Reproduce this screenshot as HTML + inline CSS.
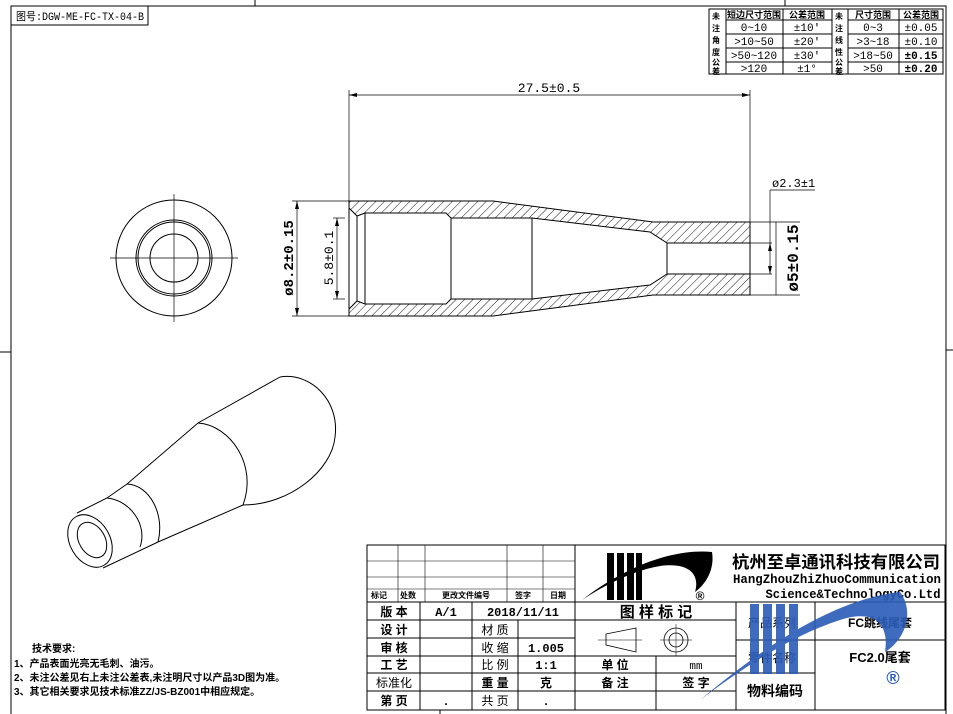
<!DOCTYPE html>
<html><head><meta charset="utf-8"><style>
html,body{margin:0;padding:0;background:#fff;}
svg{display:block;font-family:"Liberation Sans","Noto Sans CJK SC",sans-serif;}
.t{fill:#000;}
.b{font-weight:bold;}
.m{font-family:"Liberation Mono","Noto Sans CJK SC",monospace;}
</style></head><body>
<svg width="953" height="714" viewBox="0 0 953 714" xmlns="http://www.w3.org/2000/svg" font-size="11">
<defs>
<pattern id="h" patternUnits="userSpaceOnUse" width="6" height="6" patternTransform="rotate(45)">
<line x1="0" y1="0" x2="0" y2="6" stroke="#000" stroke-width="0.9"/>
</pattern>
</defs>
<g fill="none" stroke="#000" stroke-width="1">
<polyline points="11,714 11,18 11,6 946,6 946,714"/>
<rect x="11" y="6" width="137" height="19"/>
<line x1="255" y1="0" x2="255" y2="6"/><line x1="785" y1="0" x2="785" y2="6"/>
<line x1="0" y1="352" x2="11" y2="352"/><line x1="946" y1="350" x2="953" y2="350"/>
<rect x="709" y="9" width="234" height="65"/>
<line x1="726" y1="9" x2="726" y2="74"/><line x1="783" y1="9" x2="783" y2="74"/>
<line x1="832" y1="9" x2="832" y2="74"/><line x1="848" y1="9" x2="848" y2="74"/>
<line x1="899" y1="9" x2="899" y2="74"/>
<line x1="726" y1="20" x2="832" y2="20"/><line x1="848" y1="20" x2="943" y2="20"/>
<line x1="726" y1="34" x2="832" y2="34"/><line x1="848" y1="34" x2="943" y2="34"/>
<line x1="726" y1="48" x2="832" y2="48"/><line x1="848" y1="48" x2="943" y2="48"/>
<line x1="726" y1="62" x2="832" y2="62"/><line x1="848" y1="62" x2="943" y2="62"/>
</g>
<g class="t" font-size="9">
<text x="712" y="19" class="b" font-size="8">未</text><text x="712" y="31" class="b" font-size="8">注</text><text x="712" y="43" class="b" font-size="8">角</text><text x="712" y="55" class="b" font-size="8">度</text><text x="712" y="65" class="b" font-size="8">公</text><text x="712" y="74" class="b" font-size="8">差</text>
<text x="835" y="19" class="b" font-size="8">未</text><text x="835" y="31" class="b" font-size="8">注</text><text x="835" y="43" class="b" font-size="8">线</text><text x="835" y="55" class="b" font-size="8">性</text><text x="835" y="65" class="b" font-size="8">公</text><text x="835" y="74" class="b" font-size="8">差</text>
<text x="754" y="18" text-anchor="middle" class="b" font-size="9">短边尺寸范围</text>
<text x="807" y="18" text-anchor="middle" class="b" font-size="9">公差范围</text>
<text x="873" y="18" text-anchor="middle" class="b" font-size="9">尺寸范围</text>
<text x="921" y="18" text-anchor="middle" class="b" font-size="9">公差范围</text>
<g class="m" font-size="11">
<text x="754" y="31" text-anchor="middle">0~10</text><text x="807" y="31" text-anchor="middle">±10'</text>
<text x="754" y="45" text-anchor="middle">&gt;10~50</text><text x="807" y="45" text-anchor="middle">±20'</text>
<text x="754" y="59" text-anchor="middle">&gt;50~120</text><text x="807" y="59" text-anchor="middle">±30'</text>
<text x="754" y="72" text-anchor="middle">&gt;120</text><text x="807" y="72" text-anchor="middle">±1°</text>
<text x="873" y="31" text-anchor="middle">0~3</text><text x="921" y="31" text-anchor="middle">±0.05</text>
<text x="873" y="45" text-anchor="middle">&gt;3~18</text><text x="921" y="45" text-anchor="middle">±0.10</text>
<text x="873" y="59" text-anchor="middle">&gt;18~50</text><text x="921" y="59" text-anchor="middle" class="b">±0.15</text>
<text x="873" y="72" text-anchor="middle">&gt;50</text><text x="921" y="72" text-anchor="middle" class="b">±0.20</text>
</g>
</g>
<text x="16" y="20" class="t m" font-size="11" textLength="128" lengthAdjust="spacingAndGlyphs">图号:DGW-ME-FC-TX-04-B</text>

<path d="M349,201 L493,201 L653,222 L750,222 L750,243 L667,243 L650,232 L532,218 L451,218 L446,213 L365,213 L357,216 L349,208 Z" fill="url(#h)" stroke="#000"/>
<path d="M349,316 L493,316 L653,295 L750,295 L750,274 L667,274 L650,285 L532,299 L451,299 L446,304 L365,304 L357,301 L349,309 Z" fill="url(#h)" stroke="#000"/>
<g fill="none" stroke="#000" stroke-width="1">
<line x1="349" y1="208" x2="349" y2="309"/>
<line x1="357" y1="216" x2="357" y2="301"/>
<line x1="365" y1="213" x2="365" y2="304"/>
<line x1="451" y1="218" x2="451" y2="299"/>
<line x1="532" y1="218" x2="532" y2="299"/>
<line x1="667" y1="243" x2="667" y2="274"/>
<line x1="750" y1="243" x2="750" y2="274"/>
</g>
<g fill="none" stroke="#000" stroke-width="0.7">
<line x1="349" y1="90" x2="349" y2="201"/><line x1="750" y1="90" x2="750" y2="222"/>
<line x1="349" y1="95" x2="750" y2="95"/>
<line x1="292" y1="201" x2="349" y2="201"/><line x1="292" y1="316" x2="349" y2="316"/>
<line x1="297" y1="201" x2="297" y2="316"/>
<line x1="333" y1="218" x2="345" y2="218"/><line x1="333" y1="299" x2="345" y2="299"/>
<line x1="337" y1="218" x2="337" y2="299"/>
<line x1="750" y1="222" x2="800" y2="222"/><line x1="750" y1="295" x2="800" y2="295"/>
<line x1="776" y1="222" x2="776" y2="295"/>
<line x1="750" y1="243" x2="772" y2="243"/><line x1="750" y1="274" x2="772" y2="274"/>
<line x1="770" y1="190" x2="770" y2="274"/><line x1="770" y1="190" x2="815" y2="190"/>
</g>
<g fill="#000">
<path d="M349,95 l8,-2 v4z"/><path d="M750,95 l-8,-2 v4z"/>
<path d="M297,201 l-2,8 h4z"/><path d="M297,316 l-2,-8 h4z"/>
<path d="M337,218 l-2,8 h4z"/><path d="M337,299 l-2,-8 h4z"/>
<path d="M770,243 l-2,8 h4z"/><path d="M770,274 l-2,-8 h4z"/>
</g>
<text x="549" y="92" class="t m" font-size="13" text-anchor="middle">27.5±0.5</text>
<text x="772" y="187" class="t m" font-size="12">ø2.3±1</text>
<text transform="translate(293,258) rotate(-90)" class="t m b" font-size="14" text-anchor="middle">ø8.2±0.15</text>
<text transform="translate(333,258) rotate(-90)" class="t m" font-size="13" text-anchor="middle">5.8±0.1</text>
<text transform="translate(798,258) rotate(-90)" class="t m b" font-size="16" text-anchor="middle">ø5±0.15</text>

<g fill="none" stroke="#000" stroke-width="1">
<circle cx="174" cy="258" r="58"/><circle cx="174" cy="258" r="38"/><circle cx="174" cy="258" r="36"/><circle cx="174" cy="258" r="24"/>
<line x1="110" y1="258" x2="238" y2="258" stroke-width="0.7"/><line x1="174" y1="194" x2="174" y2="322" stroke-width="0.7"/>
</g>
<g fill="none" stroke="#000" stroke-width="1">
<path d="M280,377 C310,372 340,400 335,437 C332,470 290,505 243,505"/>
<path d="M280,377 L198,423 L127,484 L107,498 L77,513"/>
<path d="M243,505 L158,542 L103,568"/>
<path d="M198,423 C230,425 258,465 243,505"/>
<path d="M127,484 C150,485 165,515 158,542"/>
<path d="M107,498 C130,500 148,525 140,547"/>
<ellipse cx="90" cy="541" rx="20" ry="28" transform="rotate(-30 90 541)"/>
<ellipse cx="92" cy="540" rx="13" ry="19" transform="rotate(-30 92 540)"/>
</g>

<g class="t b" font-size="10">
<text x="32" y="652">技术要求:</text>
<text x="14" y="667">1、产品表面光亮无毛刺、油污。</text>
<text x="14" y="681">2、未注公差见右上未注公差表,未注明尺寸以产品3D图为准。</text>
<text x="14" y="695">3、其它相关要求见技术标准ZZ/JS-BZ001中相应规定。</text>
</g>

<g fill="none" stroke="#000" stroke-width="1">
<rect x="367" y="545" width="578" height="165"/>
<line x1="367" y1="561" x2="575" y2="561" stroke-width="0.6"/>
<line x1="367" y1="577" x2="575" y2="577" stroke-width="0.6"/>
<line x1="367" y1="589" x2="575" y2="589" stroke-width="0.6"/>
<line x1="367" y1="602" x2="945" y2="602"/>
<line x1="367" y1="620" x2="736" y2="620"/>
<line x1="367" y1="638" x2="575" y2="638"/>
<line x1="367" y1="656" x2="736" y2="656"/>
<line x1="367" y1="673" x2="736" y2="673"/>
<line x1="367" y1="691" x2="736" y2="691"/>
<line x1="736" y1="640" x2="945" y2="640"/>
<line x1="736" y1="673" x2="815" y2="673"/>
<line x1="575" y1="545" x2="575" y2="710"/>
<line x1="398" y1="545" x2="398" y2="602" stroke-width="0.6"/>
<line x1="425" y1="545" x2="425" y2="602" stroke-width="0.6"/>
<line x1="507" y1="545" x2="507" y2="602" stroke-width="0.6"/>
<line x1="543" y1="545" x2="543" y2="602" stroke-width="0.6"/>
<line x1="420" y1="602" x2="420" y2="710"/>
<line x1="472" y1="602" x2="472" y2="710"/>
<line x1="518" y1="620" x2="518" y2="710"/>
<line x1="656" y1="656" x2="656" y2="710"/>
<line x1="736" y1="602" x2="736" y2="710"/>
<line x1="815" y1="602" x2="815" y2="710"/>
<line x1="367" y1="710" x2="945" y2="710"/>
<line x1="440" y1="710" x2="440" y2="714"/>
</g>
<g class="t b" font-size="8">
<text x="371" y="598">标记</text><text x="400" y="598">处数</text><text x="442" y="598">更改文件编号</text><text x="515" y="598">签字</text><text x="550" y="598">日期</text>
</g>
<g class="t b" font-size="12">
<text x="394" y="616" text-anchor="middle">版 本</text>
<text x="394" y="634" text-anchor="middle">设 计</text>
<text x="394" y="652" text-anchor="middle">审 核</text>
<text x="394" y="669" text-anchor="middle">工 艺</text>
<text x="394" y="687" text-anchor="middle" font-weight="normal">标准化</text>
<text x="394" y="705" text-anchor="middle">第 页</text>
<text x="446" y="616" text-anchor="middle" class="m">A/1</text>
<text x="523" y="616" text-anchor="middle" class="m">2018/11/11</text>
<text x="495" y="634" text-anchor="middle" font-weight="normal">材 质</text>
<text x="495" y="652" text-anchor="middle" font-weight="normal">收 缩</text>
<text x="546" y="652" text-anchor="middle" class="m">1.005</text>
<text x="495" y="669" text-anchor="middle" font-weight="normal">比 例</text>
<text x="546" y="669" text-anchor="middle" class="m">1:1</text>
<text x="495" y="687" text-anchor="middle">重 量</text>
<text x="546" y="687" text-anchor="middle">克</text>
<text x="495" y="705" text-anchor="middle" font-weight="normal">共 页</text>
<text x="446" y="705" text-anchor="middle">.</text><text x="546" y="705" text-anchor="middle">.</text>
<text x="656" y="617" text-anchor="middle" font-size="15">图 样 标 记</text>
<text x="615" y="669" text-anchor="middle">单 位</text>
<text x="696" y="669" text-anchor="middle" class="m" font-weight="normal" font-size="11">mm</text>
<text x="615" y="687" text-anchor="middle">备 注</text>
<text x="696" y="687" text-anchor="middle">签 字</text>
<text x="775" y="696" text-anchor="middle" font-size="14">物料编码</text>
<text x="772" y="627" text-anchor="middle" font-weight="normal" font-size="12">产品系列</text>
<text x="772" y="662" text-anchor="middle" font-weight="normal" font-size="12">零件名称</text>
<text x="880" y="627" text-anchor="middle" font-size="12">FC跳线尾套</text>
<text x="880" y="662" text-anchor="middle" font-size="13">FC2.0尾套</text>
</g>
<g fill="none" stroke="#000" stroke-width="0.8">
<path d="M606,634 L636,628 L636,652 L606,645 Z"/>
<line x1="598" y1="640" x2="642" y2="640" stroke-width="0.5"/>
<circle cx="676" cy="640" r="12"/><circle cx="676" cy="640" r="7"/>
<line x1="676" y1="624" x2="676" y2="656" stroke-width="0.5"/><line x1="660" y1="640" x2="692" y2="640" stroke-width="0.5"/>
</g>
<g fill="#000">
<rect x="607" y="553" width="7" height="47"/><rect x="617" y="553" width="7" height="47"/><rect x="627" y="553" width="7" height="47"/><rect x="636" y="553" width="6" height="47"/>
<path d="M582,600 C620,570 670,548 712,552 C715,570 705,585 695,592 C700,575 690,562 660,566 C630,571 600,588 582,600 Z"/>
</g>
<text x="700" y="600" class="t b" font-size="12" text-anchor="middle">®</text>
<text x="836" y="568" class="t b" font-size="17" text-anchor="middle" textLength="208" lengthAdjust="spacingAndGlyphs">杭州至卓通讯科技有限公司</text>
<text x="837" y="583" class="t m b" font-size="12.5" text-anchor="middle" textLength="208" lengthAdjust="spacingAndGlyphs">HangZhouZhiZhuoCommunication</text>
<text x="853" y="598" class="t m b" font-size="12.5" text-anchor="middle" textLength="175" lengthAdjust="spacingAndGlyphs">Science&amp;TechnologyCo.Ltd</text>
<g fill="#2a5cb8" opacity="0.9">
<rect x="750" y="604" width="9" height="70"/><rect x="763" y="604" width="9" height="70"/><rect x="776" y="604" width="9" height="70"/><rect x="789" y="604" width="9" height="70"/>
<path d="M700,700 C760,650 830,600 900,592 C915,612 905,640 885,652 C890,620 870,610 840,620 C790,636 740,670 700,700 Z"/>
</g>
<text x="893" y="684" font-size="18" fill="#2a5cb8" text-anchor="middle" font-weight="bold">®</text>
</svg>
</body></html>
